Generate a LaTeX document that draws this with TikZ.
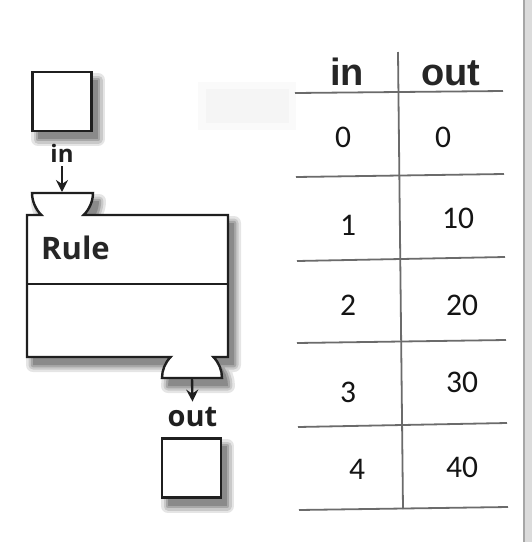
\documentclass[tikz,border=0pt]{standalone}
\usepackage{fontspec}
\newfontfamily\labelfont{Open Sans}
\newfontfamily\headfont{Liberation Sans}
\newfontfamily\numfont{Carlito}
\usetikzlibrary{arrows.meta}

% outline of the machine: body, input cup on top, output cup below
\newcommand\machinepath{(27,215) -- (41.4,215)
  .. controls (35.7,209.6) and (32,200.9) .. (32,193)
  -- (93,193)
  .. controls (93,200.9) and (89.3,209.6) .. (83.6,215)
  -- (228,215) -- (228,357) -- (213.4,357)
  .. controls (218.9,362.6) and (222,370.2) .. (222,378)
  -- (162,378)
  .. controls (162,370.2) and (165.1,362.6) .. (170.6,357)
  -- (27,357) -- cycle}

\definecolor{shadeA}{gray}{0.90}
\definecolor{shadeB}{gray}{0.79}
\definecolor{shadeC}{gray}{0.66}
\definecolor{shadeD}{gray}{0.54}

\begin{document}
\begin{tikzpicture}[x=1pt,y=-1pt,
  outline/.style={draw=black!88, line width=2.4pt, line join=miter, fill=white},
  valuebox/.style={outline, minimum size=59pt, inner sep=0pt},
  flowlabel/.style={font=\labelfont\bfseries\fontsize{#1}{#1}\selectfont, inner sep=0pt, anchor=base, text=black!88},
  flowarrow/.style={draw=black!88, line width=2.4pt, -{Stealth[length=12pt,width=12pt,inset=4pt]}},
  tline/.style={draw=black!58, line width=1.8pt},
  headtext/.style={font=\headfont\bfseries\fontsize{38}{38}\selectfont, inner sep=0pt, anchor=base, text=black!85},
  numtext/.style={font=\numfont\fontsize{31.5}{31.5}\selectfont, inner sep=0pt, anchor=base, text=black!92}]

\useasboundingbox (0,0) rectangle (532,542);

% scanned page edge on the right and a faint smudge
\fill[black!14] (524,0) rectangle (532,542);
\draw[black!35, line width=1.2pt] (524,0) -- (524,542);
\fill[black!2] (198,82) rectangle (296,130);
\fill[black!4] (206,89) rectangle (289,123);

% ---------- soft shadows, offset down and to the right ----------
\begin{scope}[shift={(6,8)}, line join=round]
  \filldraw[shadeA, line width=14pt] (32,72) rectangle (92,131);
  \filldraw[shadeA, line width=14pt] (162,438) rectangle (221,498);
  \filldraw[shadeA, line width=14pt] \machinepath;
  \filldraw[shadeB, line width=9pt] (32,72) rectangle (92,131);
  \filldraw[shadeB, line width=9pt] (162,438) rectangle (221,498);
  \filldraw[shadeB, line width=9pt] \machinepath;
  \filldraw[shadeC, line width=4.5pt] (32,72) rectangle (92,131);
  \filldraw[shadeC, line width=4.5pt] (162,438) rectangle (221,498);
  \filldraw[shadeC, line width=4.5pt] \machinepath;
  \fill[shadeD] (32,72) rectangle (92,131);
  \fill[shadeD] (162,438) rectangle (221,498);
  \fill[shadeD] \machinepath;
\end{scope}

% ---------- function machine ----------
\node[valuebox] (inbox) at (62,101.5) {};
\node[flowlabel=24] (inlabel) at (62,162) {in};
\coordinate (incup) at (62,192);

\path[outline] \machinepath;
\draw[draw=black!88, line width=2.4pt] (27,284) -- (228,284);
\node[font=\labelfont\bfseries\fontsize{31}{31}\selectfont, inner sep=0pt, anchor=base west, text=black!85] (rule) at (41,259) {Rule};

\coordinate (outcup) at (192,378);
\node[flowlabel=29] (outlabel) at (192.5,426) {out};
\node[valuebox] (outbox) at (191.5,468) {};

\draw[flowarrow] ([yshift=-4pt]inlabel.south) -- (incup);
\draw[flowarrow] (outcup) -- ([yshift=5pt]outlabel.north);

% ---------- input/output table ----------
\draw[tline] (398,52) -- (403,509);
\draw[tline] (295,93) -- (503,91);
\draw[tline] (296,177) -- (504,174);
\draw[tline] (297,261) -- (505,257);
\draw[tline] (297,343) -- (506,340);
\draw[tline] (298,427) -- (507,423);
\draw[tline] (299,510) -- (508,507);

\node[headtext] (hin)  at (347,85) {in};
\node[headtext] (hout) at (451,85) {out};

\node[numtext] (i0) at (343,147) {0};
\node[numtext] (o0) at (443,147) {0};
\node[numtext] (i1) at (348,235) {1};
\node[numtext] (o1) at (458,228) {10};
\node[numtext] (i2) at (348,315) {2};
\node[numtext] (o2) at (462,315) {20};
\node[numtext] (i3) at (348,402) {3};
\node[numtext] (o3) at (462,392) {30};
\node[numtext] (i4) at (357,479) {4};
\node[numtext] (o4) at (462,477) {40};
\end{tikzpicture}
\end{document}
